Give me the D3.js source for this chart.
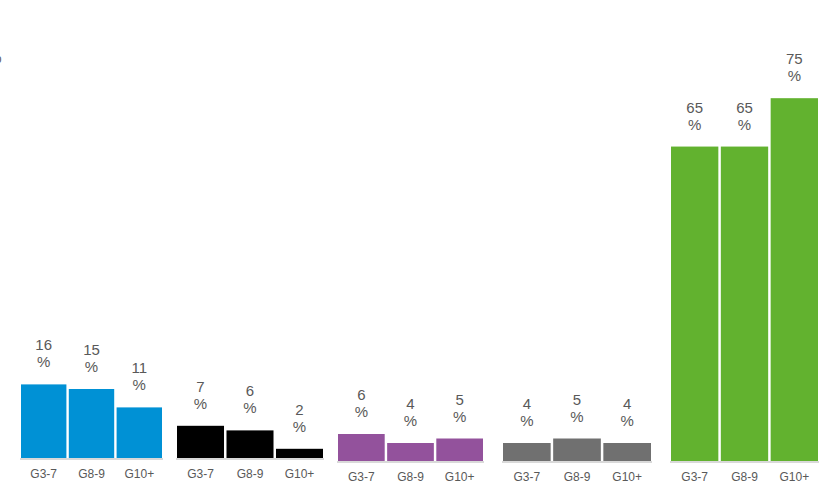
<!DOCTYPE html>
<html><head><meta charset="utf-8">
<script src="https://cdn.jsdelivr.net/npm/d3@7"></script>
<style>body{margin:0;background:#fff}svg{display:block;font-family:"Liberation Sans",Arial,sans-serif}</style>
</head><body><svg id="c" width="819" height="486"></svg>
<script>
const categories = ["G3-7", "G8-9", "G10+"];
const groupNames = ["Group 1", "Group 2", "Group 3", "Group 4", "Group 5"];
const series1 = [16, 15, 11];
const series2 = [7, 6, 2];
const series3 = [6, 4, 5];
const series4 = [4, 5, 4];
const series5 = [65, 65, 75];
const colors = ["#0091d5", "#000000", "#93529c", "#707070", "#62b22f"];

// layout per group (x start, x end, baseline, top of 0-80 scale)
const layout = [
  {x0: 21, x1: 162, base: 458, top: 90},
  {x0: 177, x1: 323, base: 458, top: 90},
  {x0: 338, x1: 483, base: 461, top: 101},
  {x0: 503, x1: 651, base: 461, top: 101},
  {x0: 671, x1: 818, base: 461, top: 74}
];
const allSeries = [series1, series2, series3, series4, series5];
const svg = d3.select("#c");

allSeries.forEach((vals, gi) => {
  const L = layout[gi];
  const x = d3.scaleBand().domain(categories).range([L.x0, L.x1]).paddingInner(0.05);
  const y = d3.scaleLinear().domain([0, 80]).range([L.base, L.top]);
  const g = svg.append("g");
  g.append("line").attr("x1", L.x0 - 1).attr("x2", L.x1 + 1)
    .attr("y1", L.base + 1).attr("y2", L.base + 1)
    .attr("stroke", "#d9d9d9").attr("stroke-width", 2);
  const data = categories.map((c, i) => ({c, v: vals[i]}));
  g.selectAll("rect").data(data).join("rect")
    .attr("x", d => x(d.c)).attr("width", x.bandwidth())
    .attr("y", d => y(d.v)).attr("height", d => y(0) - y(d.v))
    .attr("fill", colors[gi]);
  const lab = g.selectAll("text.v").data(data).join("text").attr("class", "v")
    .attr("text-anchor", "middle").attr("font-size", 15).attr("fill", "#595959");
  lab.append("tspan").attr("x", d => x(d.c) + x.bandwidth() / 2)
    .attr("y", d => y(d.v) - 34).text(d => d.v);
  lab.append("tspan").attr("x", d => x(d.c) + x.bandwidth() / 2)
    .attr("y", d => y(d.v) - 17).text("%");
  const ax = d3.axisBottom(x).tickSize(0).tickPadding(0);
  const axg = g.append("g").attr("transform", `translate(0,${L.base + 10})`).call(ax);
  axg.select(".domain").remove();
  axg.selectAll("text").attr("font-size", 12).attr("fill", "#595959")
    .attr("font-family", '"Liberation Sans",Arial,sans-serif').attr("dy", "0.8em");
});

// clipped leftover text at the left edge (as in the reference)
svg.append("text").attr("x", 1.5).attr("y", 63).attr("text-anchor", "end")
  .attr("font-size", 15).attr("fill", "#595959").text("%");
</script></body></html>
